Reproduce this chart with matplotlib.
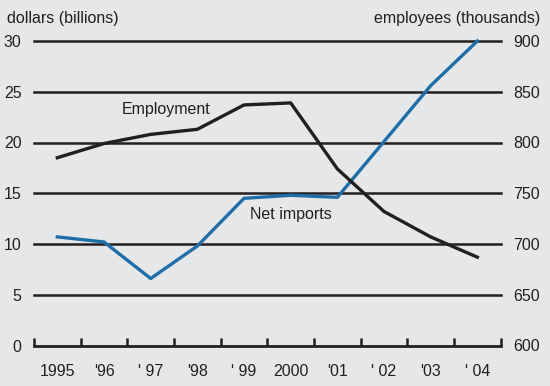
import matplotlib.pyplot as plt

plt.rcParams['font.family'] = ['Liberation Sans', 'DejaVu Sans']
plt.rcParams['font.size'] = 11.5

# data
years = [1995, 1996, 1997, 1998, 1999, 2000, 2001, 2002, 2003, 2004]
year_labels = ['1995', "'96", "' 97", "'98", "' 99", '2000', "'01", "' 02", "'03", "' 04"]
net_imports = [10.7, 10.2, 6.6, 9.8, 14.5, 14.8, 14.6, 20.1, 25.6, 30.0]      # dollars (billions)
employment = [785, 799, 808, 813, 837, 839, 774, 732, 707, 687]              # employees (thousands)

bg = '#e6e7e8'
ink = '#231f20'
blue = '#1f6ea8'

fig = plt.figure(figsize=(5.5, 3.86), dpi=100, facecolor=bg)
ax = fig.add_axes([34 / 550, 40.5 / 386, 466.7 / 550, 304.5 / 386])
ax.set_facecolor(bg)
ax2 = ax.twinx()

ax.set_xlim(1994.5, 2004.5)
ax.set_ylim(0, 30)
ax2.set_ylim(600, 900)

# horizontal rules
for v in range(5, 31, 5):
    ax.axhline(v, color=ink, lw=1.8, clip_on=False, zorder=1)

ax.plot(years, net_imports, color=blue, lw=2.4, zorder=3, clip_on=False)
ax2.plot(years, employment, color=ink, lw=2.4, zorder=3, clip_on=False)

for a in (ax, ax2):
    for s in a.spines.values():
        s.set_visible(False)
ax.spines['bottom'].set_visible(True)
ax.spines['bottom'].set_linewidth(2)
ax.spines['bottom'].set_color(ink)

# x ticks: marks at year boundaries, labels centred on years
ax.set_xticks([y + 0.5 for y in [1994] + years], minor=True)
ax.set_xticks(years)
ax.set_xticklabels(year_labels)
ax.tick_params(axis='x', which='major', length=0, pad=13, labelcolor=ink)
ax.tick_params(axis='x', which='minor', direction='in', length=6, width=1.8, color=ink)

ax.set_yticks(range(0, 31, 5))
ax.tick_params(axis='y', length=0, pad=9, labelcolor=ink)
ax2.set_yticks(range(600, 901, 50))
ax2.tick_params(axis='y', length=0, pad=9, labelcolor=ink)

ax.text(1997.34, 23.3, 'Employment', ha='center', va='center', color=ink)
ax.text(2000.0, 12.95, 'Net imports', ha='center', va='center', color=ink)

fig.text(7 / 550, 1 - 18 / 386, 'dollars (billions)', ha='left', va='center', color=ink)
fig.text(540 / 550, 1 - 18 / 386, 'employees (thousands)', ha='right', va='center', color=ink)

fig.savefig('out.png', dpi=100, facecolor=bg)
